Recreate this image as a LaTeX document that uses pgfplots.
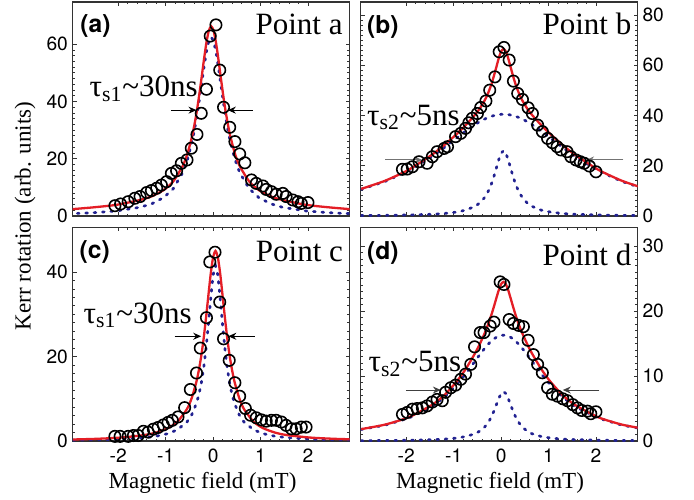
\documentclass[border=0pt]{standalone}
\usepackage{fontspec}
\setmainfont{Liberation Serif}
\newfontfamily\sansf{TeX Gyre Heros}
\usepackage{pgfplots}
\usepackage{pgfplotstable}
\pgfplotsset{compat=1.18}
\usetikzlibrary{arrows.meta}

\definecolor{fitred}{RGB}{228,30,38}
\definecolor{dotblue}{RGB}{34,34,145}

% fitted curves
\pgfplotstableread{
x red blue
-3.04 2.3 0.79
-2.54 3.0 1.13
-2.04 3.9 1.76
-1.54 5.6 3.05
-1.29 6.9 4.30
-1.04 9.1 6.48
-0.84 12.1 9.56
-0.64 17.5 15.2
-0.54 21.8 19.8
-0.44 28.1 26.2
-0.39 32.2 30.3
-0.34 37.0 35.1
-0.29 42.6 40.6
-0.24 48.7 46.4
-0.19 55.0 52.3
-0.14 60.7 57.5
-0.09 64.8 61.2
-0.04 66.3 62.5
0.01 64.8 61.2
0.06 60.7 57.5
0.11 55.0 52.3
0.16 48.7 46.4
0.21 42.6 40.6
0.26 37.0 35.1
0.31 32.2 30.3
0.36 28.1 26.2
0.46 21.8 19.8
0.56 17.5 15.2
0.76 12.1 9.56
0.96 9.1 6.48
1.21 6.9 4.30
1.46 5.6 3.05
1.96 3.9 1.76
2.46 3.0 1.13
2.96 2.3 0.79
}\fitA

\pgfplotstableread{
x red broad narrow
-2.95 10.8 10.63 0.18
-2.45 14.0 13.73 0.26
-1.95 18.4 18.01 0.40
-1.45 24.5 23.79 0.70
-1.20 28.2 27.22 1.00
-0.95 32.4 30.87 1.53
-0.75 36.1 33.76 2.31
-0.55 40.3 36.41 3.85
-0.45 42.8 37.57 5.20
-0.35 45.9 38.57 7.30
-0.30 47.8 39.01 8.78
-0.25 50.1 39.39 10.66
-0.20 52.7 39.72 13.00
-0.15 55.9 40.00 15.85
-0.10 59.3 40.22 19.10
-0.05 62.8 40.37 22.40
0.00 65.5 40.47 25.00
0.05 66.5 40.50 26.00
0.10 65.5 40.47 25.00
0.15 62.8 40.37 22.40
0.20 59.3 40.22 19.10
0.25 55.9 40.00 15.85
0.30 52.7 39.72 13.00
0.35 50.1 39.39 10.66
0.40 47.8 39.01 8.78
0.45 45.9 38.57 7.30
0.55 42.8 37.57 5.20
0.65 40.3 36.41 3.85
0.85 36.1 33.76 2.31
1.05 32.4 30.87 1.53
1.30 28.2 27.22 1.00
1.55 24.5 23.79 0.70
2.05 18.4 18.01 0.40
2.55 14.0 13.73 0.26
3.05 10.8 10.63 0.18
}\fitB

\pgfplotstableread{
x red blue
-2.95 0.36 0.20
-2.45 0.52 0.29
-1.95 0.81 0.45
-1.45 1.41 0.80
-1.20 2.01 1.14
-0.95 3.06 1.75
-0.75 4.60 2.68
-0.55 7.58 4.53
-0.45 10.2 6.22
-0.35 14.1 8.97
-0.30 16.8 10.98
-0.25 20.1 13.6
-0.20 24.2 17.2
-0.15 29.1 21.8
-0.10 34.4 27.5
-0.05 39.6 33.8
0.00 43.5 39.3
0.05 45.0 41.5
0.10 43.5 39.3
0.15 39.6 33.8
0.20 34.4 27.5
0.25 29.1 21.8
0.30 24.2 17.2
0.35 20.1 13.6
0.40 16.8 10.98
0.45 14.1 8.97
0.55 10.2 6.22
0.65 7.58 4.53
0.85 4.60 2.68
1.05 3.06 1.75
1.30 2.01 1.14
1.55 1.41 0.80
2.05 0.81 0.45
2.55 0.52 0.29
3.05 0.36 0.20
}\fitC

\pgfplotstableread{
x red broad narrow
-2.95 1.83 1.78 0.05
-2.45 2.52 2.44 0.08
-1.95 3.65 3.52 0.12
-1.45 5.59 5.36 0.21
-1.20 7.05 6.74 0.29
-0.95 9.04 8.55 0.45
-0.75 11.04 10.31 0.68
-0.55 13.5 12.29 1.12
-0.45 14.93 13.29 1.52
-0.35 16.53 14.23 2.13
-0.30 17.44 14.67 2.57
-0.25 18.43 15.07 3.11
-0.20 19.53 15.43 3.80
-0.15 20.73 15.73 4.63
-0.10 22.0 15.97 5.59
-0.05 23.22 16.15 6.55
0.00 24.15 16.26 7.31
0.05 24.5 16.3 7.6
0.10 24.15 16.26 7.31
0.15 23.22 16.15 6.55
0.20 22.0 15.97 5.59
0.25 20.73 15.73 4.63
0.30 19.53 15.43 3.80
0.35 18.43 15.07 3.11
0.40 17.44 14.67 2.57
0.45 16.53 14.23 2.13
0.55 14.93 13.29 1.52
0.65 13.5 12.29 1.12
0.85 11.04 10.31 0.68
1.05 9.04 8.55 0.45
1.30 7.05 6.74 0.29
1.55 5.59 5.36 0.21
2.05 3.65 3.52 0.12
2.55 2.52 2.44 0.08
3.05 1.83 1.78 0.05
}\fitD

% measured points
\pgfplotstableread{
x y
-2.07 3.6
-1.95 4.2
-1.79 5.0
-1.65 6.2
-1.54 6.8
-1.40 8.2
-1.30 8.9
-1.19 9.7
-1.09 10.8
-0.98 12.0
-0.88 14.9
-0.77 15.8
-0.67 18.4
-0.55 19.6
-0.46 23.7
-0.34 28.5
-0.25 35.9
-0.14 44.3
-0.06 62.9
0.06 66.8
0.14 51.0
0.22 38.0
0.35 31.0
0.46 26.0
0.56 21.7
0.67 18.6
0.81 12.6
0.91 11.4
1.05 10.5
1.12 9.3
1.23 8.5
1.33 7.6
1.47 7.9
1.54 6.8
1.68 5.6
1.79 5.0
1.86 4.4
2.00 4.7
}\ptsA

\pgfplotstableread{
x y
-2.08 18.6
-1.98 18.7
-1.87 19.6
-1.73 21.6
-1.56 21.0
-1.45 23.6
-1.35 25.6
-1.20 26.9
-1.13 27.6
-0.96 31.6
-0.85 32.9
-0.75 34.9
-0.68 37.1
-0.61 38.9
-0.50 40.8
-0.43 43.2
-0.32 45.8
-0.24 50.1
-0.13 55.4
-0.04 65.4
0.06 67.1
0.17 62.1
0.26 53.7
0.35 48.8
0.45 46.4
0.57 43.1
0.66 40.8
0.77 36.2
0.87 33.6
0.98 30.9
1.08 29.2
1.18 27.6
1.26 26.3
1.39 25.6
1.47 23.6
1.58 22.3
1.67 21.6
1.75 21.0
1.86 19.9
2.00 17.6
}\ptsB

\pgfplotstableread{
x y
-2.07 1.1
-1.96 1.1
-1.79 1.1
-1.68 1.3
-1.58 1.3
-1.47 2.3
-1.37 2.1
-1.26 2.8
-1.16 3.2
-1.05 3.8
-0.95 4.4
-0.86 4.9
-0.74 5.7
-0.60 7.9
-0.48 12.2
-0.35 16.1
-0.27 22.0
-0.14 29.2
-0.07 42.4
0.04 44.7
0.14 32.9
0.22 24.2
0.34 19.1
0.46 13.8
0.56 10.6
0.68 7.7
0.79 6.1
0.91 5.5
1.02 5.0
1.12 4.7
1.23 4.9
1.33 4.9
1.44 4.5
1.54 3.7
1.65 2.9
1.75 2.9
1.86 3.3
1.96 3.3
}\ptsC

\pgfplotstableread{
x y
-2.08 4.1
-1.98 4.4
-1.87 4.9
-1.77 5.0
-1.66 5.1
-1.56 5.4
-1.45 6.0
-1.35 6.4
-1.24 6.2
-1.17 7.5
-1.06 8.2
-0.96 8.6
-0.85 9.5
-0.75 10.3
-0.64 11.8
-0.56 14.5
-0.44 16.7
-0.36 16.7
-0.23 17.7
-0.15 18.3
-0.02 24.5
0.06 24.1
0.17 18.7
0.26 18.1
0.37 17.8
0.47 17.6
0.57 15.5
0.68 13.3
0.77 11.8
0.87 10.5
0.98 8.2
1.08 7.2
1.19 6.9
1.30 6.5
1.40 6.2
1.51 5.6
1.61 5.1
1.70 4.7
1.82 4.6
1.89 4.2
2.00 4.5
}\ptsD

\pgfplotsset{
  panel/.style={
    scale only axis, width=138.5pt,
    xmin=-2.96, xmax=2.88,
    xtick={-2,-1,0,1,2}, xticklabels={-2,-1,0,1,2},
    minor x tick num=4, minor y tick num=9,
    tick align=inside, xtick pos=both, ytick pos=both,
    major tick length=2pt, minor tick length=1.2pt,
    every tick/.style={black!80, line width=0.45pt},
    axis line style={black!80, line width=0.7pt},
    tick label style={font=\sansf\fontsize{9.6}{11}\selectfont},
    yticklabel style={inner xsep=2.2pt},
    xticklabel style={yshift=-0.5pt},
    /pgf/number format/assume math mode=true,
    anchor=south west,
  },
  top/.style={xticklabels={}},
  rightlab/.style={yticklabel pos=right, ytick pos=both},
  fit/.style={fitred, line width=1.15pt, smooth, tension=0.4, mark=none},
  dots/.style={dotblue, line width=1.35pt, mark=none, dash pattern=on 0.9pt off 3.3pt, line cap=round},
  meas/.style={only marks, mark=o, mark size=2.85pt, mark options={black, line width=0.8pt}},
}
\tikzset{
  harr/.style={-{Stealth[length=4pt,width=3.5pt]}, line width=0.5pt},
  ptlab/.style={font=\fontsize{15.5}{17}\selectfont, inner sep=0pt},
  panlab/.style={font=\sansf\bfseries\fontsize{12.3}{14}\selectfont, inner sep=0pt},
  taulab/.style={font=\fontsize{15.5}{17}\selectfont, inner sep=0pt, anchor=base west},
}

\begin{document}
\begin{tikzpicture}
\path[use as bounding box] (0,0) rectangle (347pt,249.5pt);

% (a)
\begin{axis}[panel, top, at={(36.35pt,141.5pt)}, height=107pt,
  ymin=0, ymax=74.8, ytick={0,20,40,60}]
\addplot[dots] table[x=x, y=blue] {\fitA};
\addplot[meas] table[x=x, y=y] {\ptsA};
\addplot[fit] table[x=x, y=red] {\fitA};
\draw[harr] (axis cs:-0.89,37) -- (axis cs:-0.35,37);
\draw[harr] (axis cs:0.84,37) -- (axis cs:0.31,37);
\end{axis}

% (b)
\begin{axis}[panel, top, rightlab, at={(180.35pt,141.5pt)}, height=107pt,
  ymin=0, ymax=85.2, ytick={0,20,40,60,80}]
\addplot[dots] table[x=x, y=broad] {\fitB};
\addplot[dots] table[x=x, y=narrow] {\fitB};
\addplot[meas] table[x=x, y=y] {\ptsB};
\addplot[fit] table[x=x, y=red] {\fitB};
\draw[harr, black!55] (axis cs:-2.44,22.3) -- (axis cs:-1.66,22.3);
\draw[harr, black!55] (axis cs:2.58,22.3) -- (axis cs:1.79,22.3);
\end{axis}

% (c)
\begin{axis}[panel, at={(36.35pt,29pt)}, height=106.85pt,
  ymin=0, ymax=50.6, ytick={0,20,40}]
\addplot[dots] table[x=x, y=blue] {\fitC};
\addplot[meas] table[x=x, y=y] {\ptsC};
\addplot[fit] table[x=x, y=red] {\fitC};
\draw[harr] (axis cs:-0.81,24.8) -- (axis cs:-0.25,24.8);
\draw[harr] (axis cs:0.88,24.8) -- (axis cs:0.32,24.8);
\end{axis}

% (d)
\begin{axis}[panel, rightlab, at={(180.35pt,29pt)}, height=106.85pt,
  ymin=0, ymax=32.9, ytick={0,10,20,30}]
\addplot[dots] table[x=x, y=broad] {\fitD};
\addplot[dots] table[x=x, y=narrow] {\fitD};
\addplot[meas] table[x=x, y=y] {\ptsD};
\addplot[fit] table[x=x, y=red] {\fitD};
\draw[harr, black!75] (axis cs:-2.01,7.85) -- (axis cs:-1.27,7.85);
\draw[harr, black!75] (axis cs:2.07,7.85) -- (axis cs:1.30,7.85);
\end{axis}

% labels
\node[rotate=90, font=\fontsize{11.5}{13}\selectfont] at (12.5pt,141.5pt) {Kerr rotation (arb. units)};
\node[font=\fontsize{11.5}{13}\selectfont] at (101.25pt,8pt) {Magnetic field (mT)};
\node[font=\fontsize{11.5}{13}\selectfont] at (245pt,8pt) {Magnetic field (mT)};

\node[panlab, anchor=north west] at (40pt,242.5pt) {(a)};
\node[panlab, anchor=north west] at (183.35pt,242pt) {(b)};
\node[panlab, anchor=north west] at (39.65pt,129.5pt) {(c)};
\node[panlab, anchor=north west] at (183.35pt,129.15pt) {(d)};

\node[ptlab, anchor=base east] at (171.5pt,232pt) {Point a};
\node[ptlab, anchor=base east] at (315.85pt,232.35pt) {Point b};
\node[ptlab, anchor=base east] at (171.65pt,118.65pt) {Point c};
\node[ptlab, anchor=base east] at (315.85pt,117pt) {Point d};

\node[taulab] at (44.65pt,201.15pt) {τ\textsubscript{s1}\textasciitilde 30ns};
\node[taulab] at (41.65pt,87.85pt) {τ\textsubscript{s1}\textasciitilde 30ns};
\node[taulab] at (183.35pt,187pt) {τ\textsubscript{s2}\textasciitilde 5ns};
\node[taulab] at (184.15pt,63.65pt) {τ\textsubscript{s2}\textasciitilde 5ns};
\end{tikzpicture}
\end{document}
